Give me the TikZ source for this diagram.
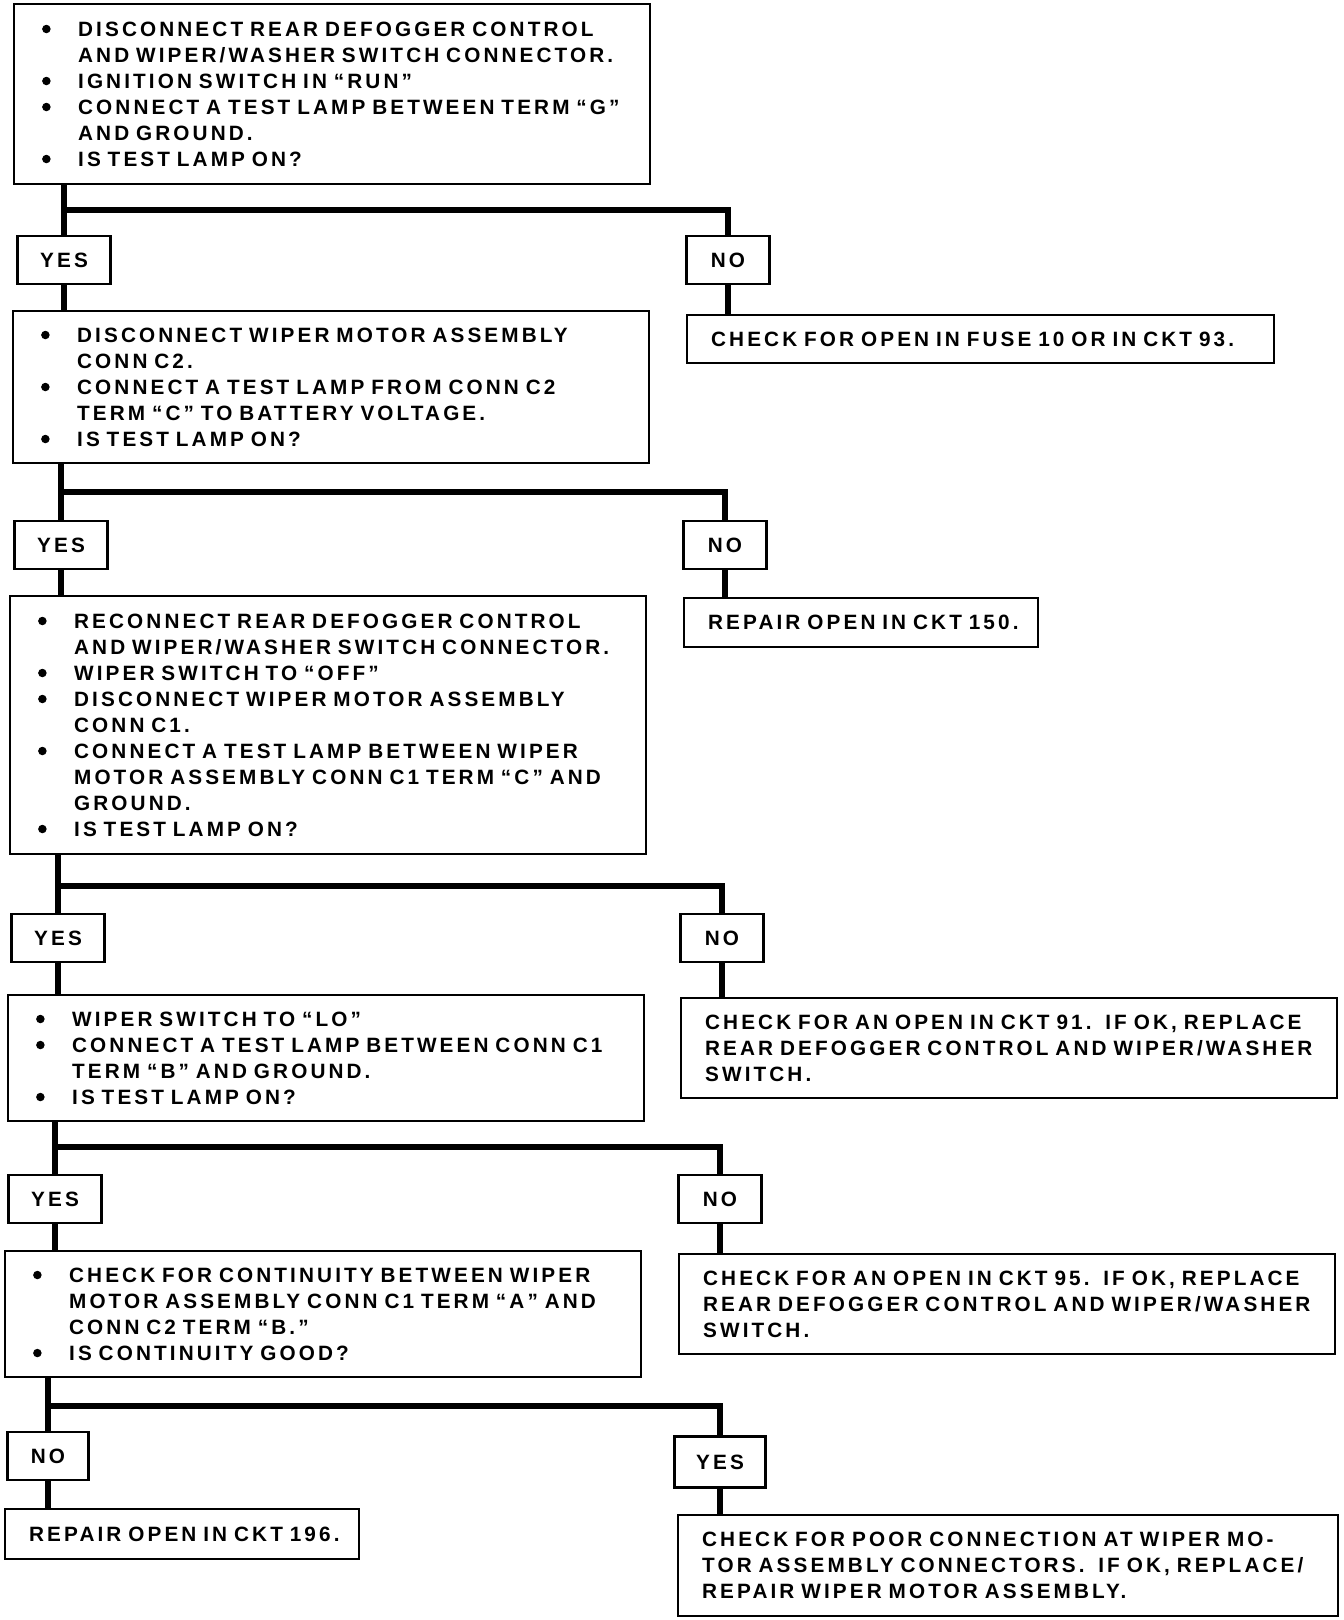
\documentclass[tikz,border=0pt]{standalone}
\usepackage{fontspec}
\setmainfont{Liberation Sans}[LetterSpace=15, WordSpace=1.8]
\usepackage{tikz}
\newlength{\bulind}
\setlength{\bulind}{0.82cm}
\newcommand{\bul}{\hangindent=\bulind\hangafter=1\noindent\makebox[\bulind][l]{\hspace{0.1cm}\tikz[baseline={(0,-0.145cm)}]\fill (0,0) circle (0.085cm);}}

\begin{document}
\begin{tikzpicture}[x=0.02cm, y=-0.02cm]
    \tikzstyle{check} = [rectangle, draw, line width=1.3pt, anchor=north west, text width=11.8cm, inner xsep=0.46cm, align=left, font=\fontsize{11.8}{14.8}\selectfont\bfseries]
    \tikzstyle{action} = [rectangle, draw, line width=1.3pt, anchor=north west, inner xsep=0.48cm, align=left, font=\fontsize{11.8}{14.8}\selectfont\bfseries]
    \tikzstyle{answer} = [rectangle, draw, line width=1.3pt, minimum width=1.86cm, minimum height=0.96cm, align=center, font=\fontsize{11.8}{14.8}\selectfont\bfseries]
    \tikzstyle{link} = [line width=3pt]

    \useasboundingbox (0,0) rectangle (1344,1620);

    \node (q1) [check, minimum height=3.6cm] at (13,3) {\bul DISCONNECT REAR DEFOGGER CONTROL\newline AND WIPER/WASHER SWITCH CONNECTOR.\par
        \bul IGNITION SWITCH IN “RUN"\par
        \bul CONNECT A TEST LAMP BETWEEN TERM “G"\newline AND GROUND.\par
        \bul IS TEST LAMP ON?};
    \node (yes1) [answer] at (64,260) {YES};
    \node (no1)  [answer, minimum width=1.66cm] at (728,260) {NO};
    \node (q2) [check, minimum height=3.04cm] at (12,310) {\bul DISCONNECT WIPER MOTOR ASSEMBLY\newline CONN C2.\par
        \bul CONNECT A TEST LAMP FROM CONN C2\newline TERM “C" TO BATTERY VOLTAGE.\par
        \bul IS TEST LAMP ON?};
    \node (r1) [action, text width=10.78cm, minimum height=0.96cm] at (686,314) {\mbox{CHECK FOR OPEN IN FUSE 10 OR IN CKT 93.}};

    \node (yes2) [answer] at (61,545) {YES};
    \node (no2)  [answer, minimum width=1.66cm] at (725,545) {NO};
    \node (q3) [check, minimum height=5.16cm] at (9,595) {\bul RECONNECT REAR DEFOGGER CONTROL\newline AND WIPER/WASHER SWITCH CONNECTOR.\par
        \bul WIPER SWITCH TO “OFF"\par
        \bul DISCONNECT WIPER MOTOR ASSEMBLY\newline CONN C1.\par
        \bul CONNECT A TEST LAMP BETWEEN WIPER\newline MOTOR ASSEMBLY CONN C1 TERM “C” AND\newline GROUND.\par
        \bul IS TEST LAMP ON?};
    \node (r2) [action, text width=6.12cm, minimum height=0.98cm] at (683,597) {\mbox{REPAIR OPEN IN CKT 150.}};

    \node (yes3) [answer] at (58,938) {YES};
    \node (no3)  [answer, minimum width=1.66cm] at (722,938) {NO};
    \node (q4) [check, minimum height=2.52cm] at (7,994) {\bul WIPER SWITCH TO “LO”\par
        \bul CONNECT A TEST LAMP BETWEEN CONN C1\newline TERM “B” AND GROUND.\par
        \bul IS TEST LAMP ON?};
    \node (r3) [action, text width=12.16cm, minimum height=2.0cm] at (680,997) {CHECK FOR AN OPEN IN CKT 91.\ \ IF OK, REPLACE\\REAR DEFOGGER CONTROL AND WIPER/WASHER\\SWITCH.};

    \node (yes4) [answer] at (55,1199) {YES};
    \node (no4)  [answer, minimum width=1.66cm] at (720,1199) {NO};
    \node (q5) [check, minimum height=2.52cm] at (4,1250) {\bul CHECK FOR CONTINUITY BETWEEN WIPER\newline MOTOR ASSEMBLY CONN C1 TERM “A” AND\newline CONN C2 TERM “B.”\par
        \bul IS CONTINUITY GOOD?};
    \node (r4) [action, text width=12.16cm, minimum height=2.0cm] at (678,1253) {CHECK FOR AN OPEN IN CKT 95.\ \ IF OK, REPLACE\\REAR DEFOGGER CONTROL AND WIPER/WASHER\\SWITCH.};

    \node (no5)  [answer, minimum width=1.62cm] at (48,1456) {NO};
    \node (yes5) [answer, minimum width=1.82cm, minimum height=1.02cm] at (720,1462) {YES};
    \node (r5) [action, text width=6.12cm, minimum height=1.0cm] at (4,1508) {\mbox{REPAIR OPEN IN CKT 196.}};
    \node (r6) [action, text width=12.24cm, minimum height=2.02cm] at (677,1514) {CHECK FOR POOR CONNECTION AT WIPER MO-\\TOR ASSEMBLY CONNECTORS.\ \ IF OK, REPLACE/\\REPAIR WIPER MOTOR ASSEMBLY.};

    % branch levels
    \coordinate (b1) at (0,210);
    \coordinate (b2) at (0,492);
    \coordinate (b3) at (0,886);
    \coordinate (b4) at (0,1147);
    \coordinate (b5) at (0,1406);

    \draw [link] (yes1 |- q1.south) -- (yes1.north);
    \draw [link] (yes1.south) -- (yes1 |- q2.north);
    \draw [link] (yes1 |- b1) -| (no1.north);
    \draw [link] (no1.south) -- (no1 |- r1.north);

    \draw [link] (yes2 |- q2.south) -- (yes2.north);
    \draw [link] (yes2.south) -- (yes2 |- q3.north);
    \draw [link] (yes2 |- b2) -| (no2.north);
    \draw [link] (no2.south) -- (no2 |- r2.north);

    \draw [link] (yes3 |- q3.south) -- (yes3.north);
    \draw [link] (yes3.south) -- (yes3 |- q4.north);
    \draw [link] (yes3 |- b3) -| (no3.north);
    \draw [link] (no3.south) -- (no3 |- r3.north);

    \draw [link] (yes4 |- q4.south) -- (yes4.north);
    \draw [link] (yes4.south) -- (yes4 |- q5.north);
    \draw [link] (yes4 |- b4) -| (no4.north);
    \draw [link] (no4.south) -- (no4 |- r4.north);

    \draw [link] (no5 |- q5.south) -- (no5.north);
    \draw [link] (no5.south) -- (no5 |- r5.north);
    \draw [link] (no5 |- b5) -| (yes5.north);
    \draw [link] (yes5.south) -- (yes5 |- r6.north);
\end{tikzpicture}
\end{document}
